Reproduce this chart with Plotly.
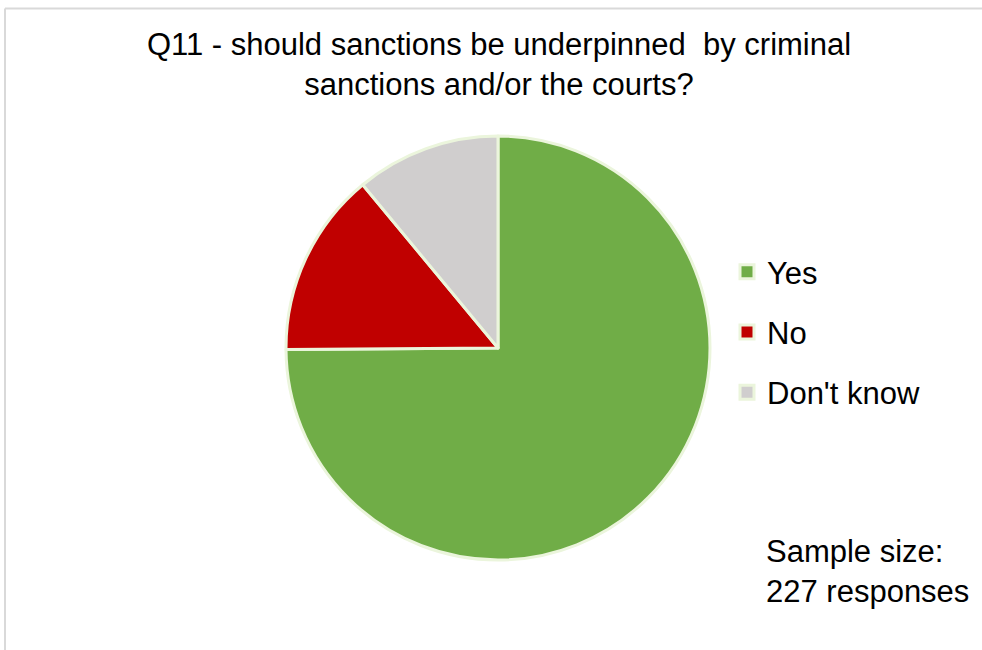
import plotly.graph_objects as go

categories = ["Yes", "No", "Don't know"]
responses = [170, 32, 25]
colors = ["#70AD47", "#C00000", "#D0CECE"]
title_text = "Q11 - should sanctions be underpinned  by criminal<br>sanctions and/or the courts?"
note_text = "Sample size:<br>227 responses"

W, H = 982, 650
cx, cy, r = 498, 348, 212
edge = "#EBF5DC"

fig = go.Figure()
fig.add_trace(go.Pie(
    labels=categories,
    values=responses,
    sort=False,
    direction="clockwise",
    rotation=0,
    textinfo="none",
    hoverinfo="label+value+percent",
    showlegend=False,
    marker=dict(colors=colors, line=dict(color=edge, width=3)),
    domain=dict(x=[(cx - r) / W, (cx + r) / W], y=[1 - (cy + r) / H, 1 - (cy - r) / H]),
))

# legend entries (one group per category so the spacing can match the original)
for cat, col in zip(categories, colors):
    fig.add_trace(go.Scatter(
        x=[None], y=[None], mode="markers", name=cat, legendgroup=cat,
        marker=dict(symbol="square", size=14, color=col, line=dict(color=edge, width=3)),
        hoverinfo="skip",
    ))

fig.update_layout(
    width=W, height=H,
    margin=dict(l=0, r=0, t=0, b=0),
    paper_bgcolor="white",
    plot_bgcolor="white",
    xaxis=dict(visible=False),
    yaxis=dict(visible=False),
    font=dict(family="Liberation Sans, Arial, sans-serif", color="#000000", size=31),
    title=dict(text=title_text, x=499 / W, xanchor="center", y=1 - 55 / H, yanchor="middle",
               xref="paper", yref="paper", font=dict(size=31, color="#000000")),
    legend=dict(x=727 / W, xanchor="left", y=1 - 332 / H, yanchor="middle",
                font=dict(size=31), bgcolor="rgba(0,0,0,0)", tracegroupgap=17,
                traceorder="grouped"),
    shapes=[
        dict(type="line", xref="paper", yref="paper", x0=5 / W, x1=1.01, y0=1 - 8.5 / H, y1=1 - 8.5 / H,
             line=dict(color="#D9D9D9", width=2)),
        dict(type="line", xref="paper", yref="paper", x0=5 / W, x1=5 / W, y0=1 - 8.5 / H, y1=-0.01,
             line=dict(color="#D9D9D9", width=2)),
    ],
    annotations=[
        dict(text=note_text, xref="paper", yref="paper", x=764 / W, y=1 - 571 / H,
             xanchor="left", yanchor="middle", align="left", showarrow=False,
             font=dict(size=31, color="#000000")),
    ],
)

fig.write_html("out.html")
